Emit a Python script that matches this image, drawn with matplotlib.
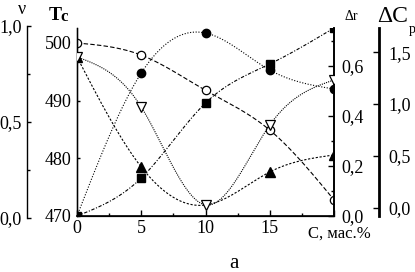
import numpy as np
import matplotlib
matplotlib.use('Agg')
import matplotlib.pyplot as plt
from matplotlib.ticker import MultipleLocator, FuncFormatter

plt.rcParams['font.family'] = 'Liberation Serif'

# concentration, mass %
conc = [0, 5, 10, 15, 20]
tc = [500.0, 497.9, 491.8, 484.9, 472.8]        # open circles, Tc
dr_sq = [0.0, 0.152, 0.452, 0.608, 0.752]      # filled squares, Δr
dr_ci = [0.0, 0.572, 0.732, 0.584, 0.508]      # filled circles, Δr
nu = [0.839, 0.578, 0.068, 0.484, 0.719]       # open triangles, ν
dcp = [1.453, 0.391, 0.024, 0.343, 0.507]      # filled triangles, ΔCp

W, H = 415, 272


def smooth(x, y, n=200):
    # natural cubic spline through the points (for drawing the curve only)
    x = np.asarray(x, float); y = np.asarray(y, float)
    h = np.diff(x)
    m = len(x)
    A = np.zeros((m, m)); b = np.zeros(m)
    A[0, 0] = A[-1, -1] = 1
    for i in range(1, m - 1):
        A[i, i - 1] = h[i - 1]; A[i, i] = 2 * (h[i - 1] + h[i]); A[i, i + 1] = h[i]
        b[i] = 3 * ((y[i + 1] - y[i]) / h[i] - (y[i] - y[i - 1]) / h[i - 1])
    c = np.linalg.solve(A, b)
    xs = np.linspace(x[0], x[-1], n)
    k = np.clip(np.searchsorted(x, xs) - 1, 0, m - 2)
    dx = xs - x[k]
    bb = (y[k + 1] - y[k]) / h[k] - h[k] * (2 * c[k] + c[k + 1]) / 3
    d = (c[k + 1] - c[k]) / (3 * h[k])
    return xs, y[k] + bb * dx + c[k] * dx ** 2 + d * dx ** 3


def comma(v, pos):
    return ('%.1f' % v).replace('.', ',')


fig = plt.figure(figsize=(W / 100, H / 100), dpi=100)
box = [77 / W, 56 / H, 257 / W, 188 / H]
ax = fig.add_axes(box)
ax.set_xlim(0, 20)
ax.set_ylim(470, 502.6)
ax.spines['top'].set_visible(False)
ax.spines['left'].set_linewidth(1.0)
ax.spines['bottom'].set_linewidth(1.2)
ax.spines['right'].set_linewidth(1.2)
ax.set_xticks([0, 5, 10, 15, 20])
ax.set_xticklabels(['0', '5', '10', '15', ''])
ax.xaxis.set_minor_locator(MultipleLocator(2.5))
ax.set_yticks([470, 480, 490, 500])
ax.tick_params(axis='x', which='major', direction='in', length=4, width=1, labelsize=13, pad=3)
ax.tick_params(axis='x', which='minor', direction='in', length=2, width=1)
ax.tick_params(axis='y', direction='in', length=2, width=1, labelsize=13, pad=4)

# Δr axis on right spine of the main box
axr = ax.twinx()
axr.set_ylim(0, 0.752)
axr.spines['top'].set_visible(False)
axr.spines['right'].set_linewidth(1.2)
axr.yaxis.set_major_locator(MultipleLocator(0.2))
axr.yaxis.set_minor_locator(MultipleLocator(0.1))
axr.yaxis.set_major_formatter(FuncFormatter(comma))
axr.tick_params(axis='y', which='major', direction='in', length=4, width=1, labelsize=13, pad=5)
axr.tick_params(axis='y', which='minor', direction='in', length=2, width=1)

# ΔCp axis, offset to the right
axc = ax.twinx()
axc.set_ylim(-0.082, 1.733)
axc.spines['top'].set_visible(False)
axc.spines['right'].set_position(('outward', 45 * 0.72))
axc.spines['right'].set_linewidth(2)
axc.set_yticks([0, 0.5, 1.0, 1.5])
axc.yaxis.set_major_formatter(FuncFormatter(comma))
axc.tick_params(axis='y', direction='in', length=4, width=1, labelsize=13, pad=7)

# ν axis, separate box on the far left
axn = fig.add_axes([77 / W, 54 / H, 257 / W, 192 / H])
axn.patch.set_visible(False)
axn.set_xlim(0, 20)
axn.set_ylim(0, 1)
for s in ['top', 'right', 'bottom']:
    axn.spines[s].set_visible(False)
axn.spines['left'].set_position(('outward', 50 * 0.72))
axn.spines['left'].set_linewidth(1.0)
axn.set_xticks([])
axn.set_yticks([0, 0.5, 1.0])
axn.yaxis.set_minor_locator(MultipleLocator(0.25))
axn.yaxis.set_major_formatter(FuncFormatter(comma))
axn.tick_params(axis='y', which='major', direction='in', length=3, width=1, labelsize=13, pad=4)
axn.tick_params(axis='y', which='minor', direction='in', length=2, width=1)

lw = 0.8
# Tc, open circles
xs, ys = smooth(conc, tc)
ax.plot(xs, ys, color='black', lw=lw, ls=(0, (4, 2)))
ax.plot(conc, tc, ls='none', marker='o', ms=6, mfc='white', mec='black', mew=0.9)

# Δr, filled squares
xs, ys = smooth(conc, dr_sq)
axr.plot(xs, ys, color='black', lw=lw, ls=(0, (3, 1.5, 1, 1.5)))
axr.plot(conc, dr_sq, ls='none', marker='s', ms=5.5, color='black')

# Δr, filled circles
xs, ys = smooth(conc, dr_ci)
axr.plot(xs, ys, color='black', lw=lw, ls=(0, (1, 1.5)))
axr.plot(conc, dr_ci, ls='none', marker='o', ms=6, color='black')

# ΔCp, filled triangles
xs, ys = smooth(conc, dcp)
axc.plot(xs, ys, color='black', lw=lw, ls=(0, (2, 1.5)))
axc.plot(conc, dcp, ls='none', marker='^', ms=6.5, color='black', markevery=[0, 1, 3, 4])

# ν, open triangles
xs, ys = smooth(conc, nu)
axn.plot(xs, ys, color='black', lw=lw, ls=(0, (1, 1)))
axn.plot(conc, nu, ls='none', marker='v', ms=6.5, mfc='white', mec='black', mew=0.9)


def ftext(px, py, s, **kw):
    fig.text(px / W, 1 - py / H, s, **kw)


ftext(22, 10, 'ν', fontsize=13, ha='center', va='center')
ftext(55, 15, 'T', fontsize=14, ha='center', va='center', fontweight='bold')
ftext(64, 17, 'c', fontsize=12, ha='center', va='center', fontweight='bold')
ftext(351, 16, 'Δr', fontsize=10, ha='center', va='center')
ftext(393, 16, 'ΔC', fontsize=17, ha='center', va='center')
ftext(409, 30, 'p', fontsize=10, ha='left', va='center')
ftext(339, 234, 'C, мас.%', fontsize=12, ha='center', va='center')
ftext(234, 264, 'a', fontsize=15, ha='center', va='center')

fig.savefig('out.png', dpi=100)
